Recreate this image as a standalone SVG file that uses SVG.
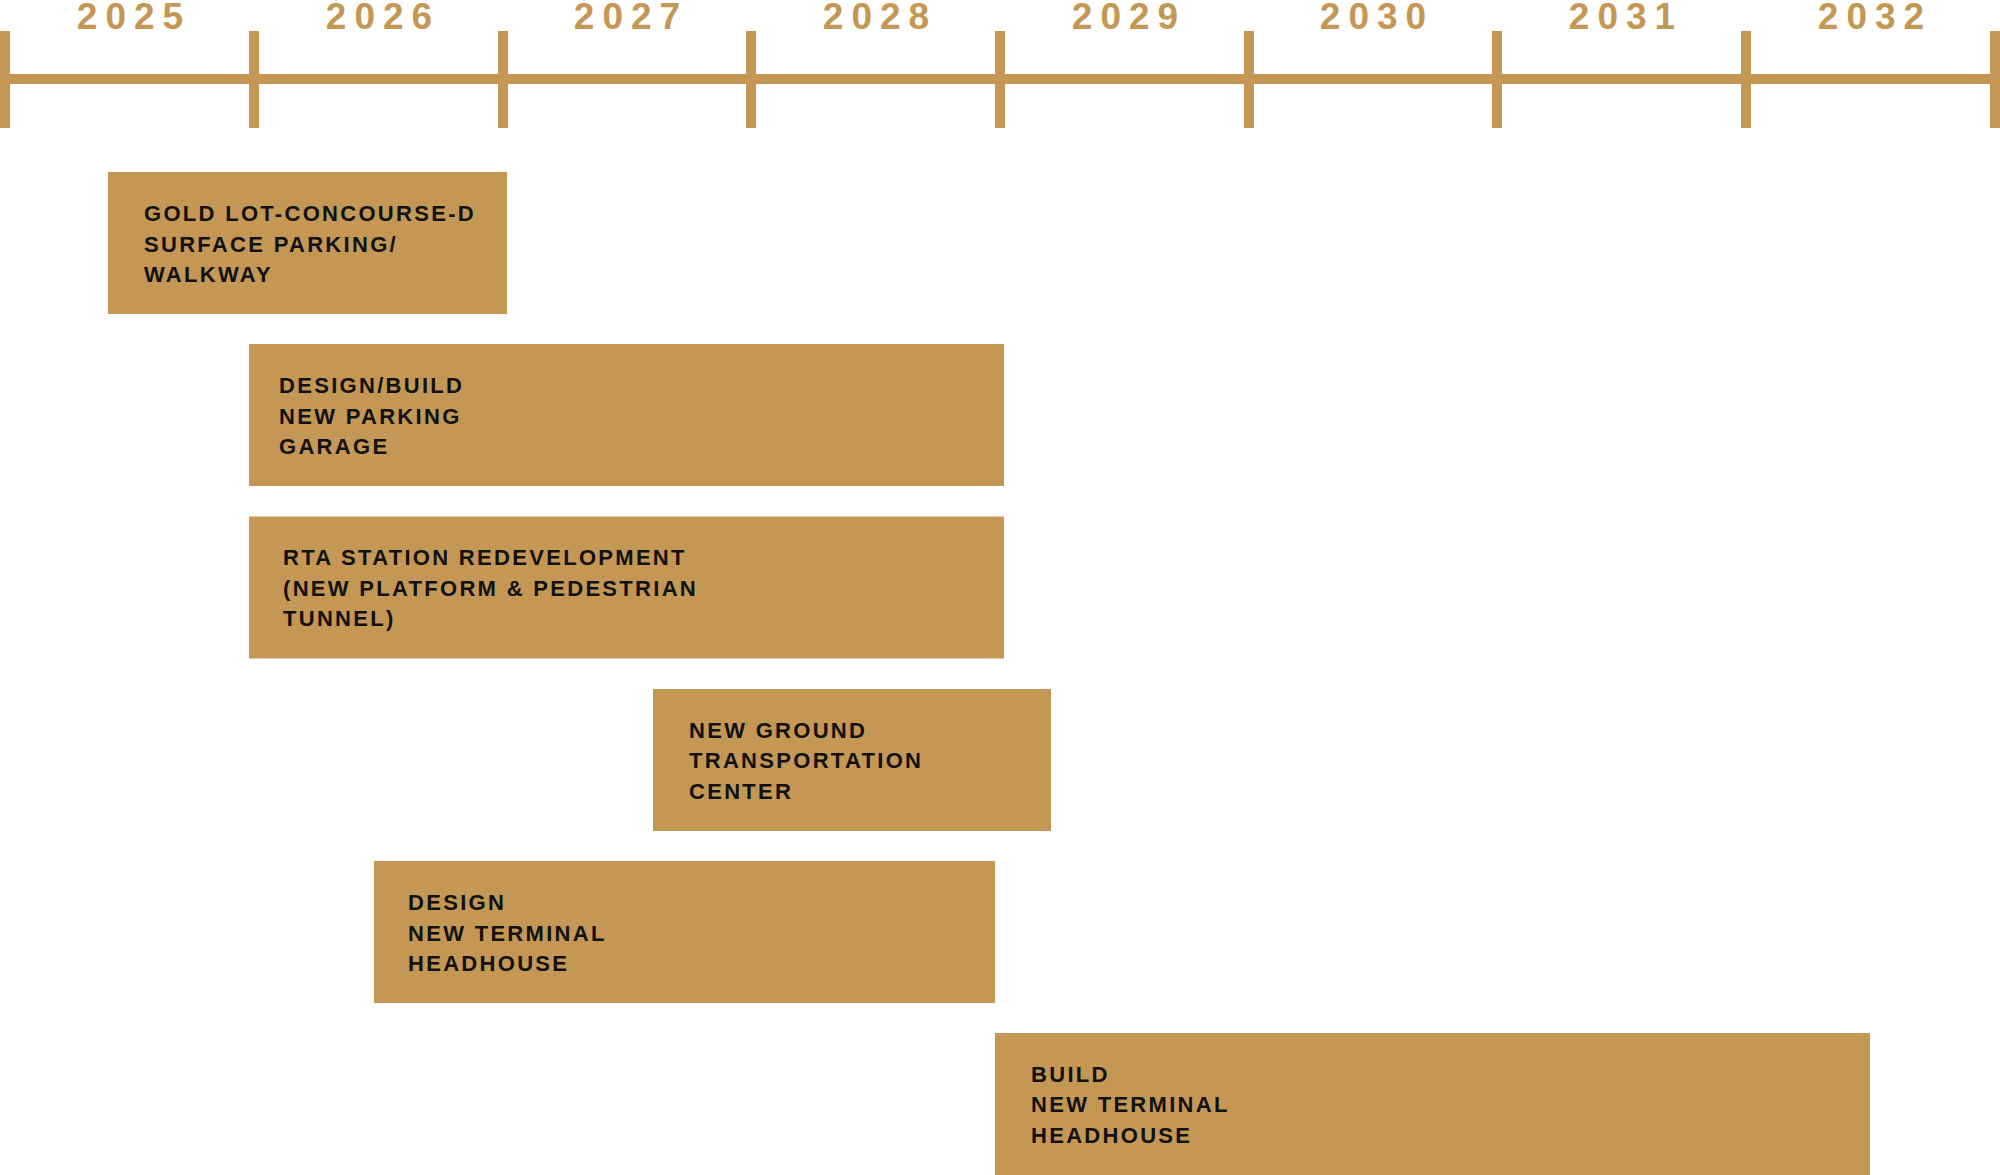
<svg xmlns="http://www.w3.org/2000/svg" width="2000" height="1175" viewBox="0 0 2000 1175">
<style>
.bar{fill:#C49754}
.axis{fill:#C49754}
.yr{font-family:"Liberation Sans",Arial,sans-serif;font-weight:bold;font-size:37px;letter-spacing:8px;fill:#C49754;text-anchor:middle}
.lbl{font-family:"Liberation Sans",Arial,sans-serif;font-weight:bold;font-size:22px;letter-spacing:2.3px;fill:#111111}
</style>
<rect width="2000" height="1175" fill="#ffffff"/>
<g id="timeline">
<rect class="axis" x="0" y="74" width="1999" height="10"/>
<rect class="axis" x="0" y="31" width="10" height="97"/>
<rect class="axis" x="249" y="31" width="10" height="97"/>
<rect class="axis" x="498" y="31" width="10" height="97"/>
<rect class="axis" x="746" y="31" width="10" height="97"/>
<rect class="axis" x="995" y="31" width="10" height="97"/>
<rect class="axis" x="1244" y="31" width="10" height="97"/>
<rect class="axis" x="1492" y="31" width="10" height="97"/>
<rect class="axis" x="1741" y="31" width="10" height="97"/>
<rect class="axis" x="1990" y="31" width="10" height="97"/>
<text class="yr" x="134" y="29">2025</text>
<text class="yr" x="383" y="29">2026</text>
<text class="yr" x="631" y="29">2027</text>
<text class="yr" x="880" y="29">2028</text>
<text class="yr" x="1129" y="29">2029</text>
<text class="yr" x="1377" y="29">2030</text>
<text class="yr" x="1626" y="29">2031</text>
<text class="yr" x="1875" y="29">2032</text>
</g>
<g id="connectors"></g>
<g id="gold-lot">
<rect class="bar" x="108" y="172" width="399" height="142"/>
<text class="lbl" x="144" y="221">GOLD LOT-CONCOURSE-D</text>
<text class="lbl" x="144" y="251.5">SURFACE PARKING/</text>
<text class="lbl" x="144" y="282">WALKWAY</text>
</g>
<g id="parking-garage">
<rect class="bar" x="249" y="344" width="755" height="142"/>
<text class="lbl" x="279" y="393">DESIGN/BUILD</text>
<text class="lbl" x="279" y="423.5">NEW PARKING</text>
<text class="lbl" x="279" y="454">GARAGE</text>
</g>
<g id="rta-station">
<rect class="bar" x="249" y="516.5" width="755" height="142"/>
<text class="lbl" x="283" y="565">RTA STATION REDEVELOPMENT</text>
<text class="lbl" x="283" y="595.5">(NEW PLATFORM &amp; PEDESTRIAN</text>
<text class="lbl" x="283" y="626">TUNNEL)</text>
</g>
<g id="ground-transportation">
<rect class="bar" x="653" y="689" width="398" height="142"/>
<text class="lbl" x="689" y="737.5">NEW GROUND</text>
<text class="lbl" x="689" y="768">TRANSPORTATION</text>
<text class="lbl" x="689" y="798.5">CENTER</text>
</g>
<g id="design-headhouse">
<rect class="bar" x="374" y="861" width="621" height="142"/>
<text class="lbl" x="408" y="910">DESIGN</text>
<text class="lbl" x="408" y="940.5">NEW TERMINAL</text>
<text class="lbl" x="408" y="971">HEADHOUSE</text>
</g>
<g id="build-headhouse">
<rect class="bar" x="995" y="1033" width="875" height="142"/>
<text class="lbl" x="1031" y="1081.5">BUILD</text>
<text class="lbl" x="1031" y="1112">NEW TERMINAL</text>
<text class="lbl" x="1031" y="1142.5">HEADHOUSE</text>
</g>
</svg>
